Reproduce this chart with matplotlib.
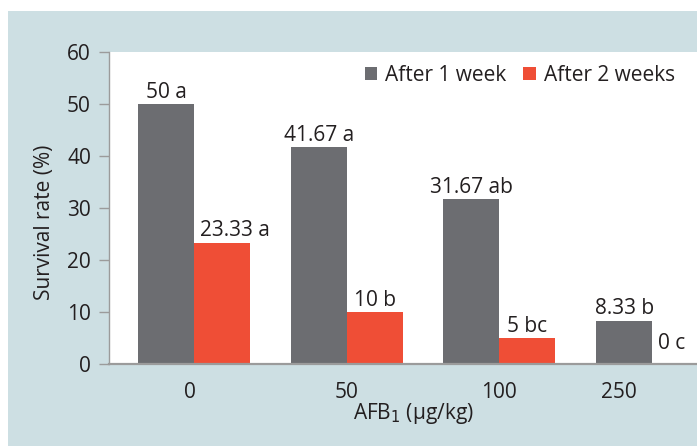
import matplotlib
matplotlib.use("Agg")
import matplotlib.pyplot as plt
from matplotlib.patches import Rectangle
import numpy as np

plt.rcParams['font.family'] = ['Open Sans', 'DejaVu Sans']

# Data
doses = ["0", "50", "100", "250"]
week1 = [50, 41.67, 31.67, 8.33]
week2 = [23.33, 10, 5, 0]
week1_letters = ["a", "a", "ab", "b"]
week2_letters = ["a", "b", "bc", "c"]
series_names = ["After 1 week", "After 2 weeks"]
y_ticks = [0, 10, 20, 30, 40, 50, 60]

GRAY = "#6c6d71"
RED = "#ef4e36"
PANEL = "#cddfe3"
AXIS = "#9b9b9b"
TEXT = "#231f20"

fig = plt.figure(figsize=(6.97, 4.46), dpi=100)
fig.patch.set_facecolor("white")
fig.add_artist(Rectangle((8 / 697, 0), 1, (446 - 11) / 446,
                         transform=fig.transFigure, facecolor=PANEL,
                         edgecolor="none", zorder=0))

ax = fig.add_axes([109 / 697, (446 - 364) / 446, 588 / 697, 312 / 446])
ax.set_facecolor("white")

x = np.arange(len(doses))
w = 0.367
ax.bar(x - w / 2, week1, w, color=GRAY, label=series_names[0], zorder=2)
ax.bar(x + w / 2, week2, w, color=RED, label=series_names[1], zorder=2)

fs = 15
# horizontal nudges (points) for the second-week labels
red_dx = [9, 0, 0, 0]
for xi, v, let in zip(x, week1, week1_letters):
    ax.annotate(f"{v:g} {let}", (xi - w / 2, v), xytext=(0, 1),
                textcoords="offset points", ha="center", va="bottom",
                fontsize=fs, color=TEXT)
for xi, v, let, dx in zip(x, week2, week2_letters, red_dx):
    if v == 0:
        ax.annotate(f"{v:g} {let}", (xi, v), xytext=(4, 7),
                    textcoords="offset points", ha="left", va="bottom",
                    fontsize=fs, color=TEXT)
    else:
        ax.annotate(f"{v:g} {let}", (xi + w / 2, v), xytext=(dx, 1),
                    textcoords="offset points", ha="center", va="bottom",
                    fontsize=fs, color=TEXT)

ax.set_xlim(-0.557, 3.294)
ax.set_ylim(0, 60)
ax.set_yticks(y_ticks)
tick_shift = [-0.03, 0, 0, -0.22]
ax.set_xticks(x + np.array(tick_shift))
ax.set_xticklabels(doses)
ax.tick_params(axis="y", length=7, width=1, color=AXIS, labelsize=fs,
               labelcolor=TEXT, pad=6)
ax.tick_params(axis="x", length=0, labelsize=fs, labelcolor=TEXT, pad=13)

for s in ["top", "right"]:
    ax.spines[s].set_visible(False)
ax.spines["left"].set_color(AXIS)
ax.spines["left"].set_linewidth(1)
ax.spines["bottom"].set_color(AXIS)
ax.spines["bottom"].set_linewidth(1.6)

ax.set_ylabel("Survival rate (%)", fontsize=fs, color=TEXT)
ax.yaxis.set_label_coords(-0.092, 0.455)
ax.set_xlabel("AFB$_1$ (µg/kg)", fontsize=fs, color=TEXT)
ax.xaxis.set_label_coords(0.517, -0.12)

leg = ax.legend(loc="center right", bbox_to_anchor=(0.995, 0.925), ncol=2,
                frameon=False, fontsize=fs, handlelength=0.6, handleheight=0.6,
                handletextpad=0.4, columnspacing=0.8)
for t in leg.get_texts():
    t.set_color(TEXT)

fig.savefig("out.png", dpi=100)
